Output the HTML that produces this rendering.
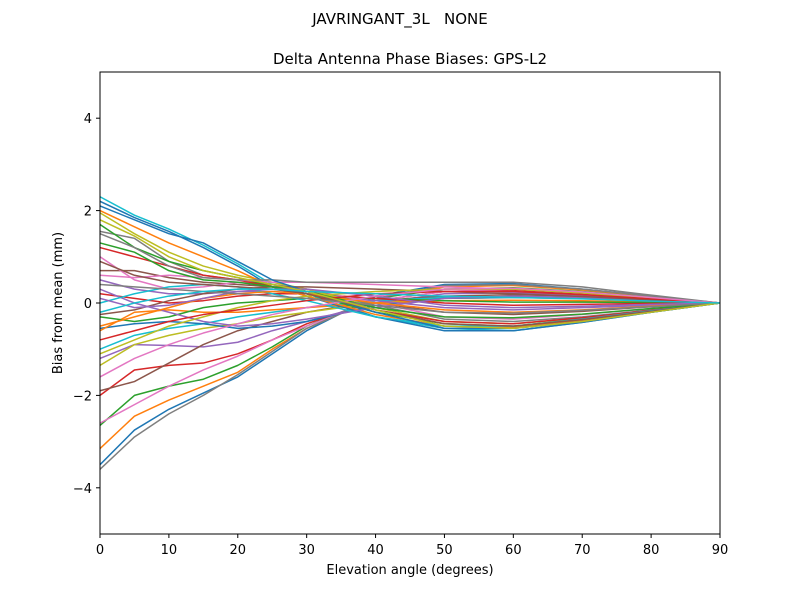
<!DOCTYPE html>
<html><head><meta charset="utf-8"><style>body{margin:0;background:#fff}svg{font-family:"DejaVu Sans","Liberation Sans",sans-serif}</style></head>
<body>
<svg id="chart" width="800" height="600" xmlns="http://www.w3.org/2000/svg">
<text x="400" y="24" text-anchor="middle" font-size="15" style="white-space:pre">JAVRINGANT_3L&#160;&#160;&#160;NONE</text>
<text x="410" y="64" text-anchor="middle" font-size="15">Delta Antenna Phase Biases: GPS-L2</text>
<g id="series"></g>
<rect x="100" y="72" width="620" height="462" fill="none" stroke="#000" stroke-width="1"/>
<g id="axes"></g>
<text x="410" y="574" text-anchor="middle" font-size="13">Elevation angle (degrees)</text>
<text x="62" y="303" text-anchor="middle" font-size="13" transform="rotate(-90 62 303)">Bias from mean (mm)</text>
</svg>
<script>
const elev=[0,5,10,15,20,25,30,40,50,60,70,80,90];
const xTicks=[0,10,20,30,40,50,60,70,80,90];
const yTicks=[-4,-2,0,2,4];
const yTickLabels=["\u22124","\u22122","0","2","4"];
const s1=[-3.5,-2.75,-2.3,-1.95,-1.6,-1.1,-0.6,0.15,0.4,0.42,0.3,0.15,0];
const s2=[-3.15,-2.45,-2.1,-1.8,-1.5,-1.0,-0.55,0.1,0.35,0.38,0.28,0.14,0];
const s3=[-2.65,-2.0,-1.8,-1.65,-1.35,-0.95,-0.5,0.1,0.3,0.33,0.25,0.12,0];
const s4=[-2.0,-1.45,-1.35,-1.3,-1.1,-0.8,-0.45,0.05,0.25,0.28,0.2,0.1,0];
const s5=[-1.2,-0.9,-0.92,-0.95,-0.85,-0.6,-0.4,0.0,0.2,0.22,0.17,0.08,0];
const s6=[-1.9,-1.7,-1.3,-0.9,-0.6,-0.4,-0.2,0.05,0.15,0.18,0.14,0.07,0];
const s7=[-2.6,-2.2,-1.8,-1.45,-1.15,-0.8,-0.5,0.05,0.25,0.3,0.22,0.1,0];
const s8=[-3.6,-2.9,-2.4,-2.0,-1.55,-1.05,-0.55,0.1,0.38,0.4,0.3,0.15,0];
const s9=[-1.35,-0.9,-0.7,-0.55,-0.45,-0.3,-0.2,0.0,0.1,0.12,0.1,0.05,0];
const s10=[-1.0,-0.7,-0.55,-0.45,-0.3,-0.2,-0.1,0.05,0.12,0.14,0.1,0.05,0];
const s11=[-0.55,-0.45,-0.4,-0.45,-0.55,-0.5,-0.4,-0.05,0.1,0.12,0.1,0.05,0];
const s12=[-0.6,-0.2,-0.15,-0.2,-0.2,-0.15,-0.1,0.0,0.05,0.06,0.05,0.02,0];
const s13=[-0.3,-0.4,-0.3,-0.1,0.0,0.05,0.1,0.1,0.05,0.02,0.02,0.01,0];
const s14=[0.2,0.1,0.0,0.05,0.15,0.2,0.2,0.1,0.0,-0.05,-0.03,-0.01,0];
const s15=[0.5,0.3,0.2,0.2,0.25,0.25,0.2,0.05,-0.1,-0.15,-0.1,-0.05,0];
const s16=[0.7,0.7,0.55,0.45,0.4,0.35,0.25,0.0,-0.2,-0.25,-0.18,-0.08,0];
const s17=[1.0,0.5,0.3,0.35,0.45,0.4,0.3,0.0,-0.3,-0.35,-0.25,-0.12,0];
const s18=[1.55,1.4,0.9,0.6,0.5,0.4,0.3,-0.05,-0.35,-0.4,-0.3,-0.15,0];
const s19=[1.95,1.5,1.1,0.8,0.6,0.45,0.3,-0.1,-0.4,-0.45,-0.33,-0.17,0];
const s20=[2.3,1.9,1.6,1.25,0.85,0.4,0.2,-0.3,-0.55,-0.6,-0.42,-0.2,0];
const s21=[2.2,1.85,1.55,1.2,0.8,0.35,0.15,-0.3,-0.6,-0.6,-0.42,-0.2,0];
const s22=[2.0,1.65,1.3,1.0,0.7,0.35,0.15,-0.25,-0.5,-0.52,-0.38,-0.18,0];
const s23=[1.7,1.2,0.9,0.7,0.55,0.35,0.2,-0.2,-0.45,-0.5,-0.35,-0.17,0];
const s24=[1.2,1.0,0.8,0.6,0.5,0.35,0.2,-0.15,-0.4,-0.45,-0.32,-0.16,0];
const s25=[0.3,0.0,-0.2,-0.4,-0.5,-0.45,-0.35,-0.1,0.1,0.15,0.12,0.06,0];
const s26=[-0.25,-0.15,0.05,0.2,0.3,0.35,0.35,0.3,0.25,0.2,0.14,0.07,0];
const s27=[0.6,0.55,0.6,0.55,0.5,0.45,0.45,0.4,0.35,0.3,0.22,0.1,0];
const s28=[1.5,1.2,0.8,0.55,0.5,0.5,0.45,0.45,0.45,0.45,0.35,0.17,0];
const s29=[-1.1,-0.8,-0.5,-0.3,-0.1,0.05,0.15,0.25,0.3,0.3,0.22,0.1,0];
const s30=[0.0,0.2,0.35,0.4,0.35,0.2,0.05,-0.3,-0.5,-0.5,-0.35,-0.17,0];
const s31=[2.1,1.8,1.5,1.3,0.9,0.5,0.25,-0.2,-0.55,-0.55,-0.4,-0.2,0];
const s32=[-0.5,-0.3,-0.1,0.1,0.2,0.25,0.2,0.0,-0.15,-0.2,-0.15,-0.07,0];
const s33=[1.3,1.1,0.7,0.5,0.45,0.35,0.25,-0.1,-0.3,-0.32,-0.24,-0.12,0];
const s34=[-0.8,-0.6,-0.4,-0.25,-0.15,-0.05,0.05,0.2,0.25,0.25,0.18,0.09,0];
const s35=[0.1,-0.1,-0.05,0.1,0.25,0.3,0.3,0.15,-0.05,-0.1,-0.07,-0.03,0];
const s36=[0.9,0.6,0.45,0.4,0.35,0.3,0.2,-0.15,-0.45,-0.5,-0.36,-0.18,0];
const s37=[-1.6,-1.2,-0.9,-0.65,-0.45,-0.25,-0.1,0.15,0.3,0.32,0.24,0.12,0];
const s38=[0.4,0.35,0.3,0.25,0.2,0.15,0.1,-0.05,-0.2,-0.22,-0.16,-0.08,0];
const s39=[1.8,1.45,1.0,0.7,0.55,0.4,0.25,-0.15,-0.5,-0.55,-0.4,-0.2,0];
const s40=[-0.2,0.0,0.15,0.25,0.3,0.3,0.25,0.2,0.15,0.12,0.09,0.04,0];
const seriesList=[s1,s2,s3,s4,s5,s6,s7,s8,s9,s10,s11,s12,s13,s14,s15,s16,s17,s18,s19,s20,s21,s22,s23,s24,s25,s26,s27,s28,s29,s30,s31,s32,s33,s34,s35,s36,s37,s38,s39,s40];
const colors=["#1f77b4","#ff7f0e","#2ca02c","#d62728","#9467bd","#8c564b","#e377c2","#7f7f7f","#bcbd22","#17becf"];
const NS="http://www.w3.org/2000/svg";
const X=v=>100+v/90*620;
const Y=v=>303-v*46.2;
const g=document.getElementById('series');
seriesList.forEach((s,i)=>{
  const p=document.createElementNS(NS,'polyline');
  p.setAttribute('points',s.map((v,j)=>X(elev[j])+','+Y(v)).join(' '));
  p.setAttribute('fill','none');p.setAttribute('stroke',colors[i%10]);p.setAttribute('stroke-width','1.5');
  p.setAttribute('stroke-linejoin','round');
  
  
  g.appendChild(p);
});
const a=document.getElementById('axes');
xTicks.forEach(t=>{
  const l=document.createElementNS(NS,'line');
  l.setAttribute('x1',X(t));l.setAttribute('x2',X(t));l.setAttribute('y1',534);l.setAttribute('y2',538);l.setAttribute('stroke','#000');
  
  
  a.appendChild(l);
  const tx=document.createElementNS(NS,'text');
  tx.setAttribute('x',X(t));tx.setAttribute('y',554);tx.setAttribute('text-anchor','middle');tx.setAttribute('font-size','13');
  tx.textContent=t;
  
  
  a.appendChild(tx);
});
yTicks.forEach((t,i)=>{
  const l=document.createElementNS(NS,'line');
  l.setAttribute('x1',96);l.setAttribute('x2',100);l.setAttribute('y1',Y(t));l.setAttribute('y2',Y(t));l.setAttribute('stroke','#000');
  
  
  a.appendChild(l);
  const tx=document.createElementNS(NS,'text');
  tx.setAttribute('x',92);tx.setAttribute('y',Y(t)+5);tx.setAttribute('text-anchor','end');tx.setAttribute('font-size','13');
  tx.textContent=yTickLabels[i];
  
  
  a.appendChild(tx);
});
</script>
</body></html>
